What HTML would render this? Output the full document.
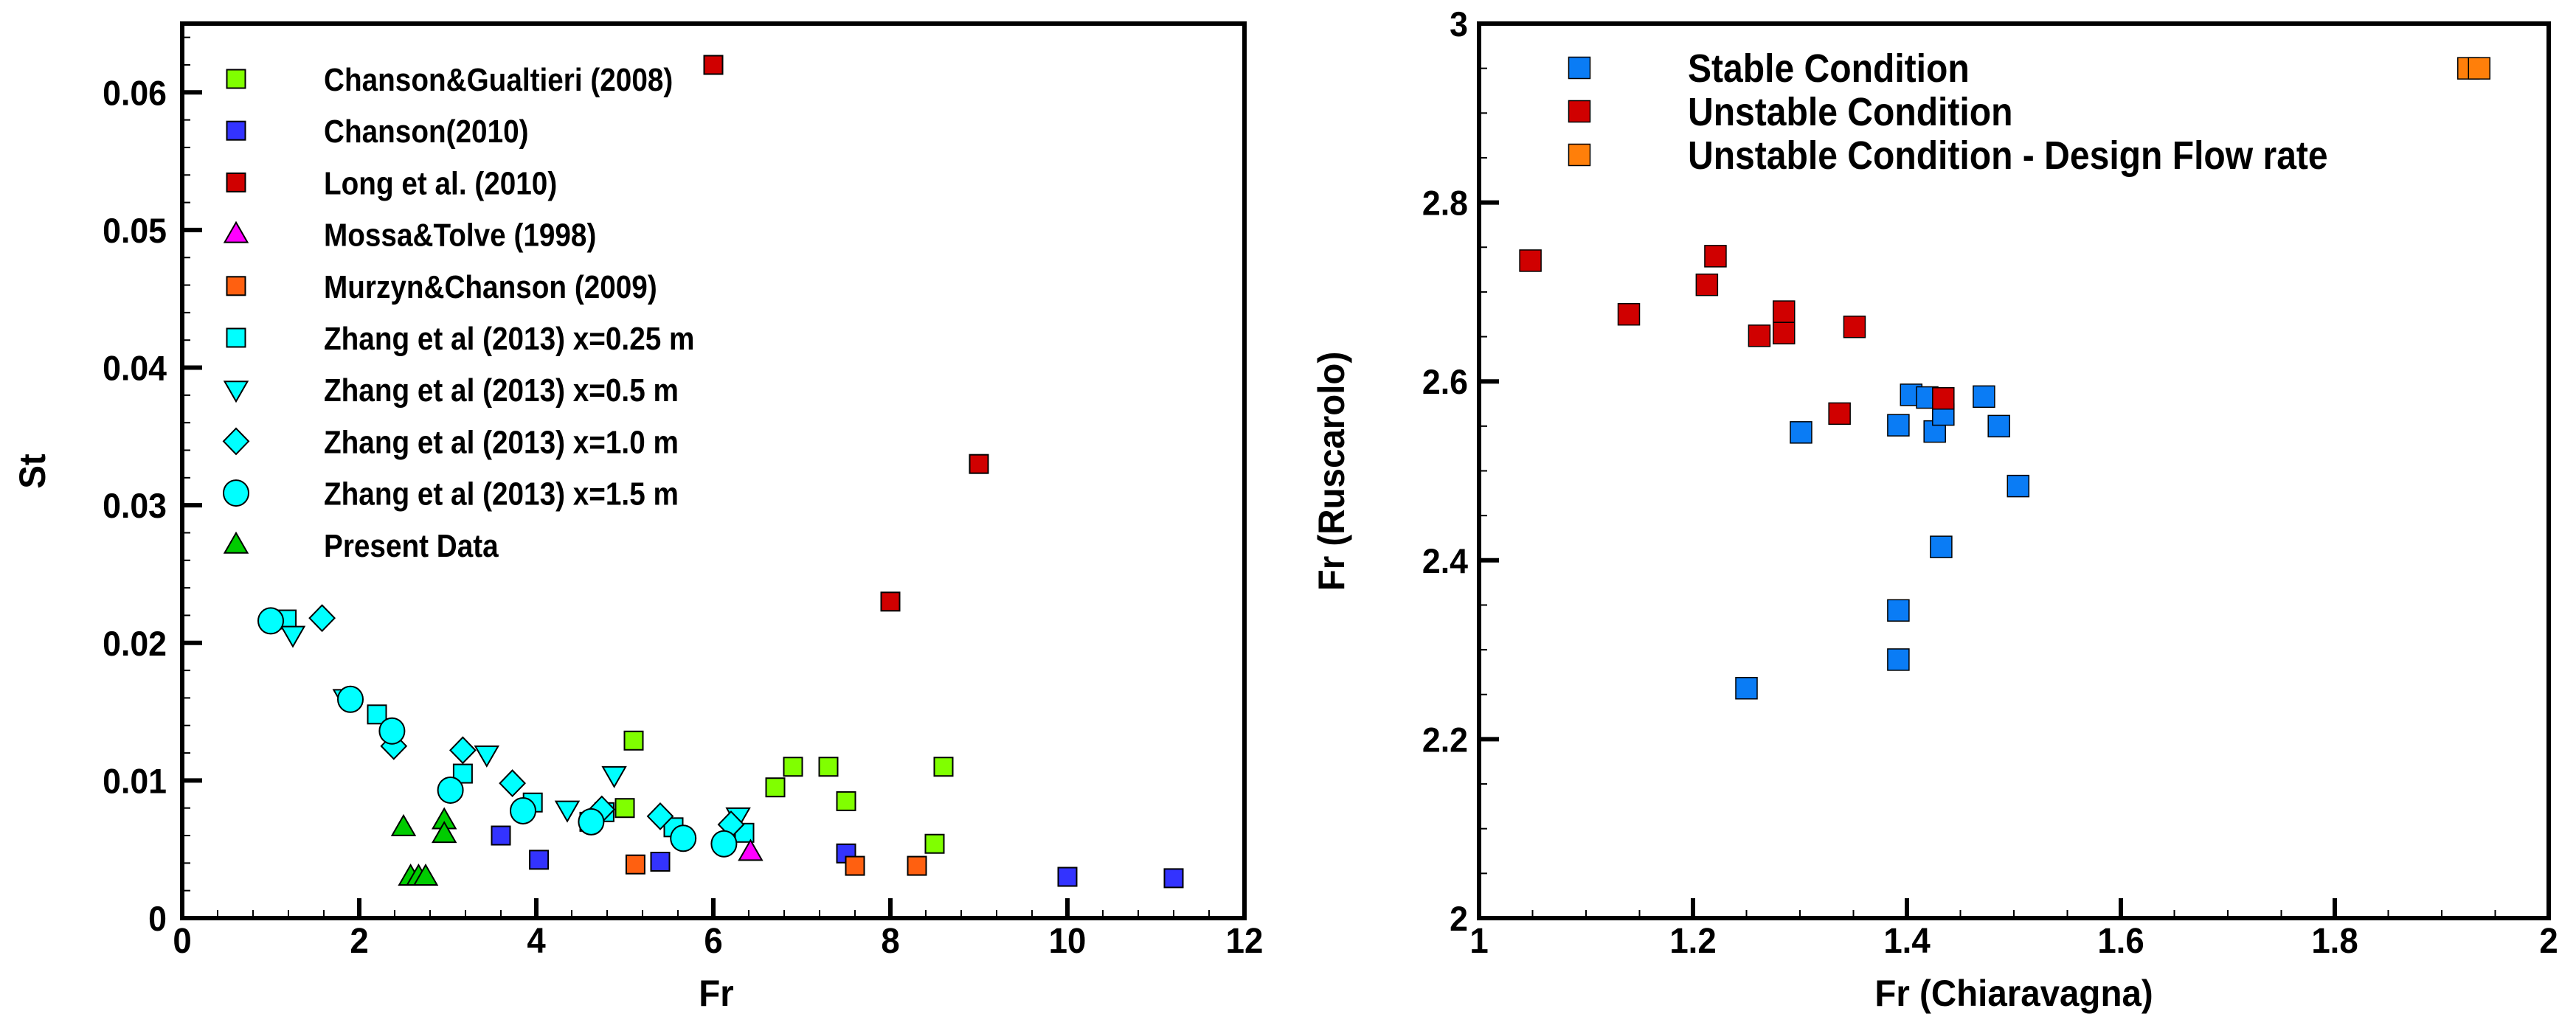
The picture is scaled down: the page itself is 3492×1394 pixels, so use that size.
<!DOCTYPE html>
<html><head><meta charset="utf-8">
<style>
html,body{margin:0;padding:0;background:#fff;}
svg{display:block;font-family:"Liberation Sans",Arial,sans-serif;font-weight:bold;}
</style></head>
<body>
<svg id="chart" width="3492" height="1394" viewBox="0 0 3492 1394" xmlns="http://www.w3.org/2000/svg">
<rect width="3492" height="1394" fill="#fff"/>
<g id="left"></g>
<g id="right"></g>
</svg>
<script>
// ---- Left chart data ----
const cgFr = [5.0,5.1,6.7,6.9,7.3,7.5,8.5,8.6];
const cgSt = [0.0080,0.0129,0.0095,0.0110,0.0110,0.0085,0.0054,0.0110];
const c10Fr = [3.6,4.03,5.4,7.5,10.0,11.2];
const c10St = [0.0060,0.00424,0.0041,0.0047,0.0030,0.0029];
const longFr = [6.0,8.0,9.0];
const longSt = [0.062,0.023,0.033];
const mossaFr = [6.42];
const mossaSt = [0.0048];
const murzFr = [5.12,7.6,8.3];
const murzSt = [0.0039,0.0038,0.0038];
const z25Fr = [1.18,2.2,3.17,3.96,4.6,4.77,5.55,6.35];
const z25St = [0.0217,0.0148,0.0105,0.0084,0.0070,0.0077,0.0066,0.0062];
const z05Fr = [1.25,1.84,3.44,4.35,4.88,6.28];
const z05St = [0.0206,0.0160,0.0119,0.0079,0.0104,0.0074];
const z10Fr = [1.58,2.39,3.17,3.73,4.74,5.4,6.2];
const z10St = [0.0218,0.0125,0.0122,0.0098,0.0079,0.0074,0.0068];
const z15Fr = [1.0,1.9,2.37,3.03,3.85,4.62,5.66,6.12];
const z15St = [0.0216,0.0159,0.0136,0.0093,0.0078,0.0070,0.0058,0.0054];
const presFr = [2.5,2.58,2.67,2.75,2.96,2.96];
const presSt = [0.0066,0.0030,0.0030,0.0030,0.0071,0.0061];
const leftXTicks = [0,2,4,6,8,10,12];
const leftYTicks = [0,0.01,0.02,0.03,0.04,0.05,0.06];
const leftYLabels = ["0","0.01","0.02","0.03","0.04","0.05","0.06"];
const leftLegend = ["Chanson&Gualtieri (2008)","Chanson(2010)","Long et al. (2010)","Mossa&Tolve (1998)","Murzyn&Chanson (2009)","Zhang et al (2013) x=0.25 m","Zhang et al (2013) x=0.5 m","Zhang et al (2013) x=1.0 m","Zhang et al (2013) x=1.5 m","Present Data"];
// ---- Right chart data ----
const stableX = [1.25,1.301,1.392,1.392,1.392,1.404,1.419,1.426,1.434,1.432,1.472,1.486,1.504];
const stableY = [2.257,2.543,2.551,2.344,2.289,2.585,2.582,2.544,2.563,2.415,2.583,2.550,2.483];
const unstX = [1.048,1.140,1.213,1.221,1.262,1.285,1.285,1.351,1.337,1.434];
const unstY = [2.735,2.675,2.708,2.740,2.651,2.654,2.678,2.661,2.564,2.581];
const designX = [1.925,1.935];
const designY = [2.950,2.950];
const rightXTicks = [1,1.2,1.4,1.6,1.8,2];
const rightXLabels = ["1","1.2","1.4","1.6","1.8","2"];
const rightYTicks = [2,2.2,2.4,2.6,2.8,3];
const rightYLabels = ["2","2.2","2.4","2.6","2.8","3"];
const rightLegend = ["Stable Condition","Unstable Condition","Unstable Condition - Design Flow rate"];

const NS="http://www.w3.org/2000/svg";
function el(tag,attrs,parent){const e=document.createElementNS(NS,tag);for(const k in attrs)e.setAttribute(k,attrs[k]);parent.appendChild(e);return e;}
function ctext(parent,str,x,y,size,anchor,sx,rot){
  const tr=`translate(${x},${y})`+(rot?` rotate(${rot})`:'')+` scale(${sx},1)`;
  const t=el('text',{x:0,y:0,'font-size':size,'text-anchor':anchor,transform:tr},parent);
  t.textContent=str;return t;
}

const L={x0:247,x1:1687,y0:1245,y1:32,xmin:0,xmax:12,ymin:0,ymax:0.065};
const lx=v=>L.x0+(v-L.xmin)/(L.xmax-L.xmin)*(L.x1-L.x0);
const ly=v=>L.y0-(v-L.ymin)/(L.ymax-L.ymin)*(L.y0-L.y1);
const R={x0:2005,x1:3455,y0:1245,y1:32,xmin:1,xmax:2,ymin:2,ymax:3};
const rx=v=>R.x0+(v-R.xmin)/(R.xmax-R.xmin)*(R.x1-R.x0);
const ry=v=>R.y0-(v-R.ymin)/(R.ymax-R.ymin)*(R.y0-R.y1);

function marker(g,shape,cx,cy,fill,name){
  let e;
  if(shape==='sq'){e=el('rect',{x:cx-12.5,y:cy-12.5,width:25,height:25,fill:fill,stroke:'#000','stroke-width':2},g);}
  else if(shape==='bsq'){e=el('rect',{x:cx-14.5,y:cy-14.5,width:29,height:29,fill:fill,stroke:'#000','stroke-width':1.5},g);}
  else if(shape==='circ'){e=el('ellipse',{cx:cx,cy:cy,rx:17,ry:17.5,fill:fill,stroke:'#000','stroke-width':2},g);}
  else if(shape==='dia'){e=el('polygon',{points:`${cx},${cy-17.5} ${cx+17},${cy} ${cx},${cy+17.5} ${cx-17},${cy}`,fill:fill,stroke:'#000','stroke-width':2},g);}
  else if(shape==='tri'){e=el('polygon',{points:`${cx},${cy-16} ${cx+15.5},${cy+11} ${cx-15.5},${cy+11}`,fill:fill,stroke:'#000','stroke-width':2},g);}
  else if(shape==='itri'){e=el('polygon',{points:`${cx},${cy+16} ${cx+15.5},${cy-11} ${cx-15.5},${cy-11}`,fill:fill,stroke:'#000','stroke-width':2},g);}
  
  
  return e;
}

function axesBox(g,A,xTicks,xLabels,xMinorStep,yTicks,yLabels,yMinorStep,fx,fy,ylabelRight){
  for(let v=A.xmin;v<=A.xmax+1e-9;v+=xMinorStep){const x=fx(v);el('line',{x1:x,x2:x,y1:A.y0,y2:A.y0-11,stroke:'#000','stroke-width':2},g);}
  for(let v=A.ymin;v<=A.ymax+1e-9;v+=yMinorStep){const y=fy(v);el('line',{x1:A.x0,x2:A.x0+11,y1:y,y2:y,stroke:'#000','stroke-width':2},g);}
  xTicks.forEach((v,i)=>{const x=fx(v);el('line',{x1:x,x2:x,y1:A.y0,y2:A.y0-27,stroke:'#000','stroke-width':6},g);
    const t=ctext(g,xLabels[i],x,1292,48,'middle',0.95,0);
    });
  yTicks.forEach((v,i)=>{const y=fy(v);el('line',{x1:A.x0,x2:A.x0+27,y1:y,y2:y,stroke:'#000','stroke-width':6},g);
    const t=ctext(g,yLabels[i],ylabelRight,y+17,47,'end',0.95,0);
    });
  const b=el('rect',{x:A.x0,y:A.y1,width:A.x1-A.x0,height:A.y0-A.y1,fill:'none',stroke:'#000','stroke-width':6},g);
  
}

// ---- left chart ----
const gl=document.getElementById('left');
axesBox(gl,L,leftXTicks,leftXTicks.map(String),0.4,leftYTicks,leftYLabels,0.002,lx,ly,226);
const series=[
  [z25Fr,z25St,'sq','#00ffff','zhang-025'],
  [z05Fr,z05St,'itri','#00ffff','zhang-05'],
  [z10Fr,z10St,'dia','#00ffff','zhang-10'],
  [z15Fr,z15St,'circ','#00ffff','zhang-15'],
  [cgFr,cgSt,'sq','#80ff00','chanson-gualtieri'],
  [c10Fr,c10St,'sq','#3333ff','chanson-2010'],
  [longFr,longSt,'sq','#d00000','long-2010'],
  [mossaFr,mossaSt,'tri','#ff00ff','mossa-tolve'],
  [murzFr,murzSt,'sq','#ff6010','murzyn-chanson'],
  [presFr,presSt,'tri','#00cc00','present-data']
];
series.forEach(s=>{const g=el('g',{},gl);
  s[0].forEach((v,i)=>marker(g,s[2],lx(v),ly(s[1][i]),s[3],s[4]+'-point'));});
const legShapes=['sq','sq','sq','tri','sq','sq','itri','dia','circ','tri'];
const legCols=['#80ff00','#3333ff','#d00000','#ff00ff','#ff6010','#00ffff','#00ffff','#00ffff','#00ffff','#00cc00'];
const lg=el('g',{},gl);
leftLegend.forEach((s,i)=>{const y=107+i*70.2;marker(lg,legShapes[i],320,y,legCols[i],'legend-marker');
  const t=ctext(lg,s,439,y+16,44,'start',0.88,0);});
let t=ctext(gl,'St',61,639,50,'middle',0.95,-90);

t=ctext(gl,'Fr',971,1364,50,'middle',0.95,0);


// ---- right chart ----
const gr=document.getElementById('right');
axesBox(gr,R,rightXTicks,rightXLabels,0.05,rightYTicks,rightYLabels,0.05,rx,ry,1990);
[[stableX,stableY,'#0a7cf5','stable'],[unstX,unstY,'#d00000','unstable'],[designX,designY,'#ff7f0a','design-flow']].forEach(s=>{
  const g=el('g',{},gr);
  s[0].forEach((v,i)=>marker(g,'bsq',rx(v),ry(s[1][i]),s[2],s[3]+'-point'));});
const rg=el('g',{},gr);
const rcols=['#0a7cf5','#d00000','#ff7f0a'];
rightLegend.forEach((s,i)=>{const y=92+i*59;marker(rg,'bsq',2141,y,rcols[i],'legend-marker');
  const tt=ctext(rg,s,2288,y+19,54,'start',0.89,0);});
t=ctext(gr,'Fr (Ruscarolo)',1822,639,50,'middle',0.95,-90);

t=ctext(gr,'Fr (Chiaravagna)',2730,1364,50,'middle',0.95,0);

</script>
</body></html>
